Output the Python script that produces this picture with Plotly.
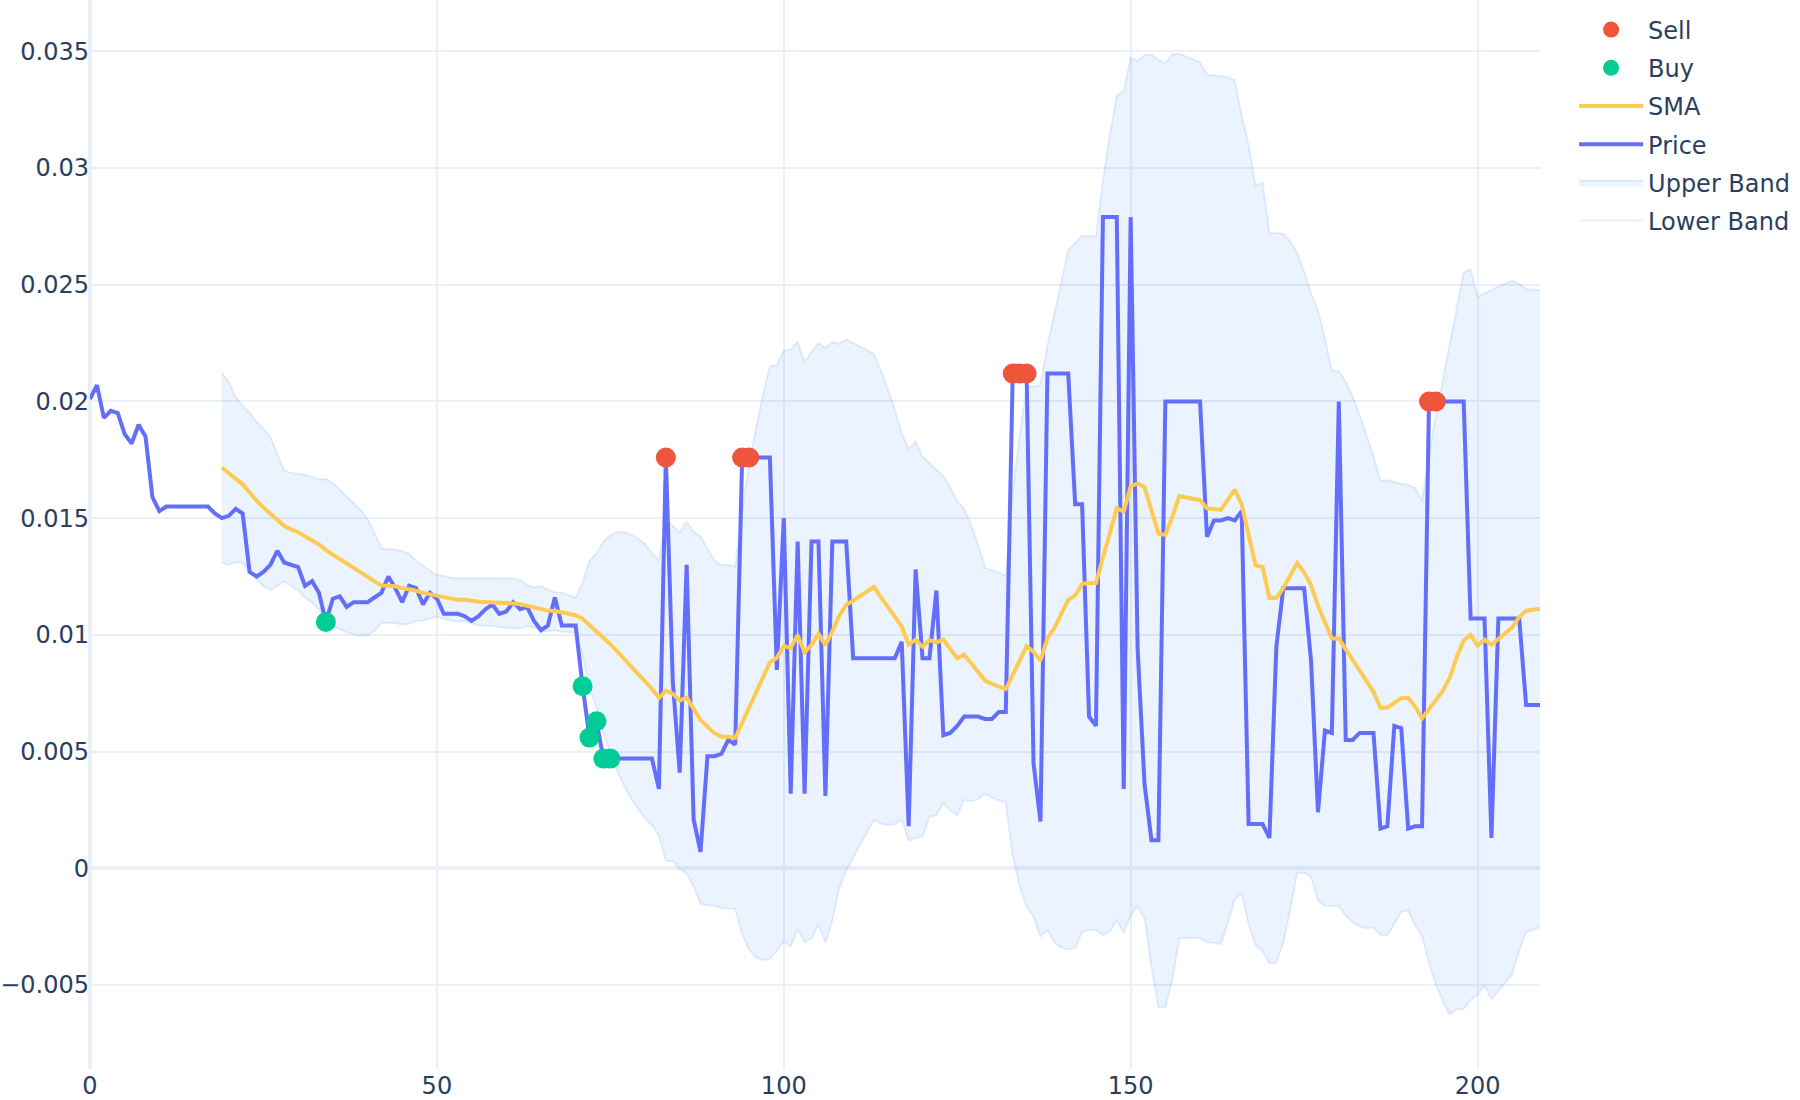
import plotly.graph_objects as go

# ---- data ----
price = [
    0.0201, 0.0207, 0.0193, 0.0196, 0.0195, 0.0186, 0.0182, 0.0190, 0.0185, 0.0159,
    0.0153, 0.0155, 0.0155, 0.0155, 0.0155, 0.0155, 0.0155, 0.0155, 0.0152, 0.0150,
    0.0151, 0.0154, 0.0152, 0.0127, 0.0125, 0.0127, 0.0130, 0.0136, 0.0131, 0.0130,
    0.0129, 0.0121, 0.0123, 0.0118, 0.01055, 0.01155, 0.01165, 0.0112, 0.0114, 0.0114,
    0.0114, 0.0116, 0.0118, 0.0125, 0.0120, 0.0114, 0.0121, 0.0120, 0.0113, 0.0118,
    0.01155, 0.0109, 0.0109, 0.0109, 0.0108, 0.0106, 0.0108, 0.0111, 0.0113, 0.0109,
    0.0110, 0.0114, 0.0111, 0.0112, 0.0106, 0.0102, 0.0104, 0.0116, 0.0104, 0.0104,
    0.0104, 0.0078, 0.0056, 0.0063, 0.0047, 0.0047, 0.0047, 0.0047, 0.0047, 0.0047,
    0.0047, 0.0047, 0.0034, 0.0176, 0.0080, 0.0041, 0.0130, 0.0021, 0.0007, 0.0048,
    0.0048, 0.0049, 0.0055, 0.0053, 0.0176, 0.0176, 0.0176, 0.0176, 0.0176, 0.0085,
    0.0150, 0.0032, 0.0140, 0.0032, 0.0140, 0.0140, 0.0031, 0.0140, 0.0140, 0.0140,
    0.0090, 0.0090, 0.0090, 0.0090, 0.0090, 0.0090, 0.0090, 0.0097, 0.0018, 0.0128,
    0.0090, 0.0090, 0.0119, 0.0057, 0.0058, 0.0061, 0.0065, 0.0065, 0.0065, 0.0064,
    0.0064, 0.0067, 0.0067, 0.0212, 0.0212, 0.0212, 0.0045, 0.0020, 0.0212, 0.0212,
    0.0212, 0.0212, 0.0156, 0.0156, 0.0065, 0.0061, 0.0279, 0.0279, 0.0279, 0.0034,
    0.0279, 0.0094, 0.0036, 0.0012, 0.0012, 0.0200, 0.0200, 0.0200, 0.0200, 0.0200,
    0.0200, 0.0142, 0.0149, 0.0149, 0.0150, 0.0149, 0.0153, 0.0019, 0.0019, 0.0019,
    0.0013, 0.0095, 0.0120, 0.0120, 0.0120, 0.0120, 0.0089, 0.0024, 0.0059, 0.0058,
    0.0200, 0.0055, 0.0055, 0.0058, 0.0058, 0.0058, 0.0017, 0.0018, 0.0061, 0.0060,
    0.0017, 0.0018, 0.0018, 0.0200, 0.0200, 0.0200, 0.0200, 0.0200, 0.0200, 0.0107,
    0.0107, 0.0107, 0.0013, 0.0107, 0.0107, 0.0107, 0.0107, 0.0070, 0.0070, 0.0070,
]
price_x = list(range(len(price)))

band_x = list(range(19, 210))

sma = [
    0.01717, 0.01692, 0.01666, 0.01645, 0.01611, 0.01575, 0.01546, 0.01520,
    0.01493, 0.01466, 0.01452, 0.01440, 0.01422, 0.01406, 0.01388, 0.01363,
    0.01344, 0.01324, 0.01303, 0.01284, 0.01266, 0.01247, 0.01228, 0.01211,
    0.01210, 0.01208, 0.01201, 0.01197, 0.01189, 0.01180, 0.01174, 0.01167,
    0.01161, 0.01154, 0.01150, 0.01151, 0.01146, 0.01142, 0.01141, 0.01141,
    0.01138, 0.01136, 0.01135, 0.01132, 0.01125, 0.01118, 0.01112, 0.01104,
    0.01102, 0.01097, 0.01090, 0.01084, 0.01069, 0.01042, 0.01019, 0.00989,
    0.00960, 0.00929, 0.00897, 0.00864, 0.00833, 0.00802, 0.00768, 0.00730,
    0.00761, 0.00748, 0.00718, 0.00731, 0.00683, 0.00635, 0.00607, 0.00579,
    0.00564, 0.00564, 0.00559, 0.00624, 0.00688, 0.00752, 0.00817, 0.00882,
    0.00901, 0.00952, 0.00944, 0.00998, 0.00925, 0.00956, 0.01005, 0.00956,
    0.01015, 0.01082, 0.01128, 0.01148, 0.01169, 0.01186, 0.01205, 0.01162,
    0.01119, 0.01076, 0.01036, 0.00958, 0.00979, 0.00949, 0.00978, 0.00968,
    0.00980, 0.00939, 0.00900, 0.00916, 0.00879, 0.00841, 0.00804, 0.00790,
    0.00779, 0.00768, 0.00829, 0.00890, 0.00951, 0.00928, 0.00890, 0.00986,
    0.01028, 0.01090, 0.01150, 0.01169, 0.01218, 0.01222, 0.01222, 0.01329,
    0.01436, 0.01543, 0.01528, 0.01636, 0.01649, 0.01633, 0.01533, 0.01434,
    0.01428, 0.01505, 0.01595, 0.01589, 0.01583, 0.01577, 0.01542, 0.01538,
    0.01535, 0.01578, 0.01622, 0.01559, 0.01428, 0.01298, 0.01291, 0.01158,
    0.01158, 0.01200, 0.01254, 0.01308, 0.01268, 0.01213, 0.01125, 0.01054,
    0.00984, 0.00984, 0.00940, 0.00893, 0.00848, 0.00802, 0.00756, 0.00688,
    0.00688, 0.00708, 0.00729, 0.00731, 0.00693, 0.00642, 0.00682, 0.00721,
    0.00761, 0.00817, 0.00905, 0.00976, 0.01000, 0.00954, 0.00980, 0.00958,
    0.00983, 0.01007, 0.01032, 0.01077, 0.01103, 0.01108, 0.01112,
]

upper = [
    0.02123, 0.02084, 0.02019, 0.01981, 0.01952, 0.01914, 0.01883, 0.01848,
    0.01775, 0.01704, 0.01693, 0.01689, 0.01686, 0.01676, 0.01667, 0.01668,
    0.01649, 0.01623, 0.01595, 0.01566, 0.01535, 0.01496, 0.01438, 0.01370,
    0.01368, 0.01365, 0.01358, 0.01347, 0.01318, 0.01298, 0.01277, 0.01255,
    0.01253, 0.01245, 0.01244, 0.01240, 0.01244, 0.01244, 0.01244, 0.01244,
    0.01244, 0.01243, 0.01241, 0.01236, 0.01214, 0.01204, 0.01208, 0.01193,
    0.01183, 0.01182, 0.01169, 0.01160, 0.01225, 0.01318, 0.01349, 0.01399,
    0.01428, 0.01442, 0.01441, 0.01429, 0.01413, 0.01389, 0.01351, 0.01319,
    0.01492, 0.01466, 0.01439, 0.01485, 0.01443, 0.01422, 0.01373, 0.01319,
    0.01299, 0.01299, 0.01293, 0.01531, 0.01724, 0.01887, 0.02028, 0.02151,
    0.02155, 0.02217, 0.02223, 0.02258, 0.02167, 0.02213, 0.02250, 0.02230,
    0.02254, 0.02247, 0.02265, 0.02251, 0.02235, 0.02220, 0.02202, 0.02132,
    0.02053, 0.01964, 0.01864, 0.01796, 0.01828, 0.01762, 0.01736, 0.01707,
    0.01680, 0.01632, 0.01572, 0.01541, 0.01471, 0.01388, 0.01288, 0.01278,
    0.01267, 0.01254, 0.01605, 0.01857, 0.02064, 0.02064, 0.02071, 0.02239,
    0.02375, 0.02519, 0.02649, 0.02679, 0.02710, 0.02708, 0.02708, 0.02944,
    0.03142, 0.03309, 0.03331, 0.03472, 0.03459, 0.03484, 0.03487, 0.03463,
    0.03450, 0.03488, 0.03490, 0.03478, 0.03465, 0.03453, 0.03401, 0.03398,
    0.03394, 0.03390, 0.03377, 0.03225, 0.03097, 0.02925, 0.02937, 0.02722,
    0.02722, 0.02718, 0.02685, 0.02636, 0.02556, 0.02463, 0.02389, 0.02270,
    0.02130, 0.02130, 0.02083, 0.02018, 0.01944, 0.01859, 0.01766, 0.01661,
    0.01662, 0.01655, 0.01646, 0.01642, 0.01630, 0.01573, 0.01770, 0.01941,
    0.02094, 0.02260, 0.02413, 0.02552, 0.02566, 0.02448, 0.02462, 0.02478,
    0.02493, 0.02506, 0.02517, 0.02505, 0.02481, 0.02479, 0.02477,
]

lower = [
    0.01311, 0.01300, 0.01312, 0.01309, 0.01269, 0.01237, 0.01209, 0.01192,
    0.01211, 0.01228, 0.01210, 0.01190, 0.01159, 0.01137, 0.01109, 0.01058,
    0.01038, 0.01025, 0.01011, 0.01002, 0.00996, 0.00998, 0.01018, 0.01052,
    0.01052, 0.01051, 0.01044, 0.01047, 0.01060, 0.01062, 0.01070, 0.01079,
    0.01069, 0.01063, 0.01055, 0.01061, 0.01048, 0.01040, 0.01039, 0.01038,
    0.01033, 0.01030, 0.01029, 0.01027, 0.01037, 0.01033, 0.01017, 0.01015,
    0.01020, 0.01013, 0.01012, 0.01009, 0.00913, 0.00767, 0.00690, 0.00579,
    0.00491, 0.00416, 0.00353, 0.00299, 0.00253, 0.00214, 0.00185, 0.00140,
    0.00031, 0.00031, -0.00003, -0.00023, -0.00076, -0.00152, -0.00159, -0.00161,
    -0.00170, -0.00171, -0.00175, -0.00284, -0.00348, -0.00382, -0.00394, -0.00388,
    -0.00354, -0.00313, -0.00334, -0.00263, -0.00316, -0.00302, -0.00240, -0.00319,
    -0.00224, -0.00084, -0.00010, 0.00046, 0.00103, 0.00153, 0.00208, 0.00192,
    0.00185, 0.00188, 0.00209, 0.00119, 0.00130, 0.00136, 0.00220, 0.00228,
    0.00280, 0.00246, 0.00227, 0.00292, 0.00287, 0.00295, 0.00319, 0.00303,
    0.00291, 0.00281, 0.00052, -0.00078, -0.00163, -0.00208, -0.00292, -0.00266,
    -0.00318, -0.00340, -0.00348, -0.00341, -0.00273, -0.00264, -0.00264, -0.00286,
    -0.00270, -0.00223, -0.00275, -0.00201, -0.00161, -0.00217, -0.00420, -0.00596,
    -0.00595, -0.00478, -0.00300, -0.00300, -0.00299, -0.00299, -0.00317, -0.00321,
    -0.00324, -0.00235, -0.00134, -0.00108, -0.00240, -0.00328, -0.00355, -0.00406,
    -0.00405, -0.00317, -0.00176, -0.00019, -0.00019, -0.00037, -0.00139, -0.00161,
    -0.00163, -0.00163, -0.00203, -0.00232, -0.00249, -0.00256, -0.00254, -0.00285,
    -0.00287, -0.00238, -0.00188, -0.00180, -0.00245, -0.00290, -0.00407, -0.00498,
    -0.00571, -0.00626, -0.00603, -0.00601, -0.00566, -0.00541, -0.00503, -0.00561,
    -0.00527, -0.00491, -0.00453, -0.00351, -0.00275, -0.00264, -0.00252,
]

buy_x = [34, 71, 72, 73, 74, 75]
buy_y = [0.01055, 0.0078, 0.0056, 0.0063, 0.0047, 0.0047]
sell_x = [83, 94, 95, 133, 134, 135, 193, 194]
sell_y = [0.0176, 0.0176, 0.0176, 0.0212, 0.0212, 0.0212, 0.0200, 0.0200]

# ---- figure ----
band_line = "rgba(0,100,240,0.10)"
band_fill = "rgba(0,100,240,0.08)"

fig = go.Figure()
fig.add_trace(go.Scatter(x=band_x, y=lower, mode="lines", name="Lower Band",
                         legendgroup="g6", legendrank=6,
                         line=dict(color=band_line, width=2)))
fig.add_trace(go.Scatter(x=band_x, y=upper, mode="lines", name="Upper Band",
                         legendgroup="g5", legendrank=5,
                         line=dict(color=band_line, width=2),
                         fill="tonexty", fillcolor=band_fill))
fig.add_trace(go.Scatter(x=price_x, y=price, mode="lines", name="Price",
                         legendgroup="g4", legendrank=4,
                         line=dict(color="#636EFA", width=4)))
fig.add_trace(go.Scatter(x=band_x, y=sma, mode="lines", name="SMA",
                         legendgroup="g3", legendrank=3,
                         line=dict(color="#FECB52", width=4)))
fig.add_trace(go.Scatter(x=buy_x, y=buy_y, mode="markers", name="Buy",
                         legendgroup="g2", legendrank=2,
                         marker=dict(color="#00CC96", size=20)))
fig.add_trace(go.Scatter(x=sell_x, y=sell_y, mode="markers", name="Sell",
                         legendgroup="g1", legendrank=1,
                         marker=dict(color="#EF553B", size=20)))

fig.update_layout(
    template="plotly_white",
    width=1800, height=1100,
    margin=dict(l=0, r=260, t=0, b=0),
    font=dict(family="DejaVu Sans", size=24, color="#2a3f5f"),
    legend=dict(itemwidth=64, x=1.0235, y=0.993, traceorder="grouped", tracegroupgap=4),
)
fig.update_xaxes(range=[0, 209], gridwidth=2, zerolinewidth=4, dtick=50)
fig.update_yaxes(range=[-0.0086, 0.0372], gridwidth=2, zerolinewidth=4, dtick=0.005, tick0=0)
fig.write_html("out.html")
